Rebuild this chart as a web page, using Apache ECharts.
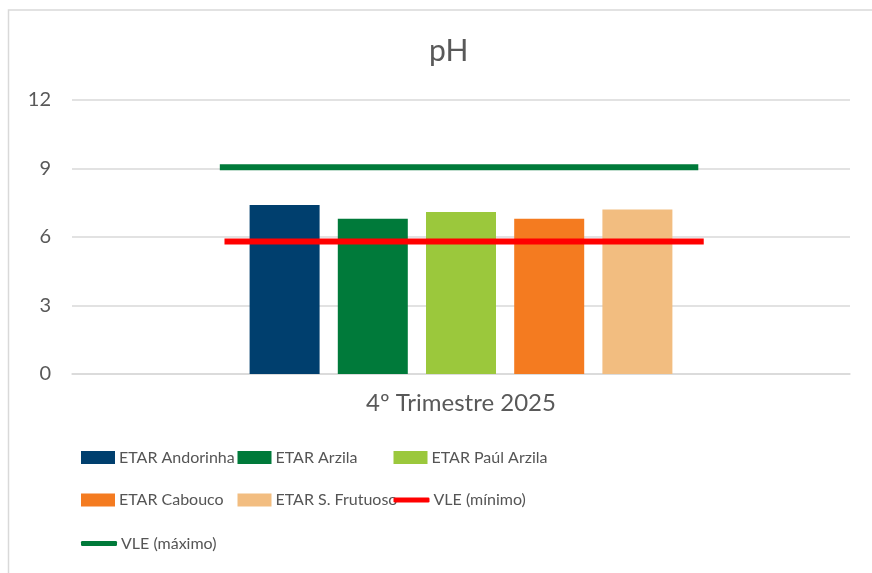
<!DOCTYPE html>
<html>
<head>
<meta charset="utf-8">
<script src="https://cdn.jsdelivr.net/npm/echarts@6/dist/echarts.min.js"></script>
<style>
  html, body { margin: 0; padding: 0; background: #fff; }
  #chart { width: 872px; height: 573px; }
</style>
</head>
<body>
<div id="chart"></div>
<script>
// data
const categories = ['4º Trimestre 2025']
const stations = ['ETAR Andorinha', 'ETAR Arzila', 'ETAR Paúl Arzila', 'ETAR Cabouco', 'ETAR S. Frutuoso']
const stationValues = [7.4, 6.8, 7.1, 6.8, 7.2]
const stationColors = ['#003f6e', '#007a3a', '#9bc83c', '#f47b20', '#f2bd80']
const vleNames = ['VLE (mínimo)', 'VLE (máximo)']
const vleValues = [5.8, 9.05]
const vleColors = ['#ff0000', '#007a3a']
const yTicks = [0, 3, 6, 9, 12]

const font = 'Lato, "Open Sans", sans-serif'
const textColor = '#595959'

// VLE lines sit on a hidden 0..1 x axis so they span part of the category
const lineSpan = [[0.196, 0.812], [0.19, 0.805]]

// legend grid (Excel lays the legend out in columns)
const legendCols = [81, 237.5, 393.5]
const legendRows = [449.5, 492, 535.5]

const chart = echarts.init(document.getElementById('chart'))

const barSeries = stations.map((name, i) => ({
    name: name,
    type: 'bar',
    data: [stationValues[i]],
    barWidth: 70,
    barGap: '26%',
    itemStyle: { color: stationColors[i] },
    xAxisIndex: 0
}))

const lineSeries = vleNames.map((name, i) => ({
    name: name,
    type: 'line',
    xAxisIndex: 1,
    data: [[lineSpan[i][0], vleValues[i]], [lineSpan[i][1], vleValues[i]]],
    symbol: 'none',
    lineStyle: { color: vleColors[i], width: 6 },
    itemStyle: { color: vleColors[i] },
    z: 5
}))

const legendNames = [...stations, ...vleNames]
const legends = legendNames.map((name, i) => {
    const isLine = i >= stations.length
    return {
        data: [{ name: name, icon: isLine ? 'roundRect' : 'rect' }],
        left: legendCols[i % 3],
        top: legendRows[Math.floor(i / 3)],
        padding: 0,
        itemWidth: isLine ? 36 : 34,
        itemHeight: isLine ? 5 : 13,
        itemStyle: isLine ? { borderRadius: 3 } : {},
        textStyle: { color: '#555555', fontFamily: font, fontSize: 16, padding: [0, 0, 0, -1] }
    }
})

const option = {
    animation: false,
    backgroundColor: '#fff',
    title: {
        text: 'pH',
        left: 424,
        top: 31,
        textStyle: { color: textColor, fontFamily: font, fontSize: 30, fontWeight: 'normal' }
    },
    graphic: [{
        type: 'rect',
        shape: { x: 8.5, y: 10, width: 900, height: 600 },
        style: { fill: 'none', stroke: '#d9d9d9', lineWidth: 1.5 },
        silent: true
    }],
    legend: legends,
    grid: { left: 72, right: 22, top: 100, bottom: 199, containLabel: false },
    xAxis: [
        {
            type: 'category',
            data: categories,
            axisLine: { lineStyle: { color: '#d9d9d9', width: 1.5 } },
            axisTick: { show: false },
            axisLabel: { color: textColor, fontFamily: font, fontSize: 24, margin: 17 }
        },
        {
            type: 'value',
            min: 0,
            max: 1,
            show: false
        }
    ],
    yAxis: {
        type: 'value',
        min: yTicks[0],
        max: yTicks[yTicks.length - 1],
        interval: yTicks[1] - yTicks[0],
        axisLine: { show: false },
        axisTick: { show: false },
        splitLine: { lineStyle: { color: '#d9d9d9', width: 1.5 } },
        axisLabel: { color: textColor, fontFamily: font, fontSize: 20, margin: 21 }
    },
    series: [...barSeries, ...lineSeries]
}

chart.setOption(option)
window.addEventListener('resize', () => chart && chart.resize())
</script>
</body>
</html>
